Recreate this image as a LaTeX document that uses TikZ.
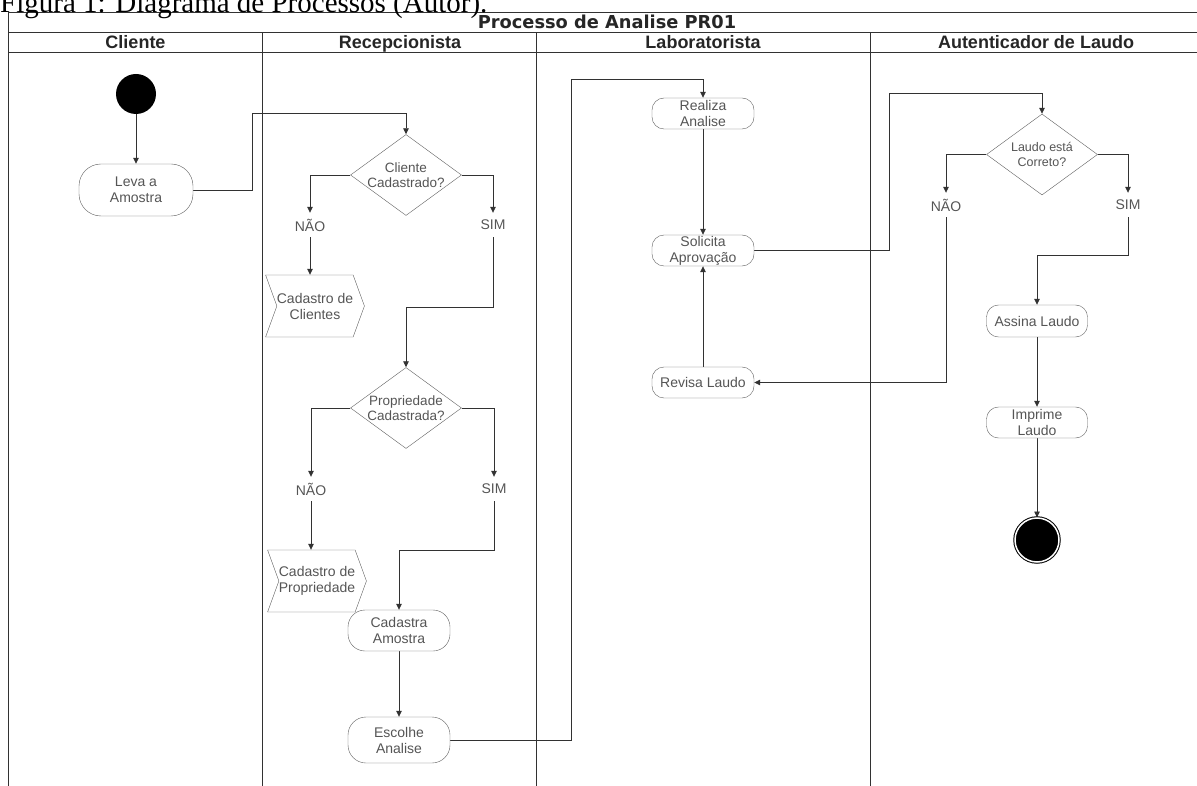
\documentclass[tikz,border=0pt]{standalone}
\usepackage{fontspec}
\setmainfont{Liberation Serif}
\setsansfont{Liberation Sans}
\newfontfamily\titlefont{DejaVu Sans}
\usepackage{tikz}
\definecolor{lanegray}{RGB}{50,50,50}
\definecolor{boxgray}{RGB}{95,95,95}
\definecolor{txtgray}{RGB}{85,85,85}
\usetikzlibrary{arrows.meta}
\usetikzlibrary{shapes.geometric}
\usetikzlibrary{shapes.symbols}
\pgfdeclarelayer{lanelayer}
\pgfdeclarelayer{edgelayer}
\pgfdeclarelayer{nodelayer}
\pgfsetlayers{lanelayer,edgelayer,nodelayer,main}
\tikzstyle{act}=[rectangle,rounded corners=12pt,draw=boxgray,fill=white,inner sep=0pt,minimum width=102pt,minimum height=31pt,align=center,text=txtgray,font=\sffamily\fontsize{14}{16}\selectfont]
\tikzstyle{decision}=[diamond,draw=boxgray,fill=white,inner sep=0pt,minimum width=111pt,minimum height=81pt]
\tikzstyle{dtext}=[align=center,text=txtgray,inner sep=0pt,font=\sffamily\fontsize{13.5}{15.5}\selectfont]
\tikzstyle{stepshape}=[signal,signal from=west,signal to=east,signal pointer angle=140,draw=boxgray,fill=white,inner sep=0pt,minimum width=96pt,minimum height=62pt,align=center,text=txtgray,font=\sffamily\fontsize{14}{16}\selectfont]
\tikzstyle{guard}=[inner sep=0pt,minimum height=24pt,text=txtgray,font=\sffamily\fontsize{14}{16}\selectfont]
\tikzstyle{startnode}=[circle,fill=black,minimum size=40pt,inner sep=0pt]
\tikzstyle{endnode}=[circle,draw=black,line width=1pt,double=white,double distance=1.5pt,fill=black,minimum size=44pt,inner sep=0pt]
\tikzstyle{lane}=[draw=lanegray,line width=0.9pt]
\tikzstyle{lanehead}=[anchor=base,inner sep=0pt,text=black!85,font=\sffamily\bfseries\fontsize{18}{20}\selectfont]
\tikzstyle{flow}=[->,draw=lanegray,line width=0.8pt]

\begin{document}
\begin{tikzpicture}[x=1pt,y=-1pt,>={Triangle[length=6pt,width=5.5pt]}]
    \useasboundingbox (0,0) rectangle (1197,786);

    \node [anchor=base west, inner sep=0pt, font=\fontsize{29}{30}\selectfont] (caption) at (0,13) {Figura 1: Diagrama de Processos (Autor).};

    \begin{pgfonlayer}{lanelayer}
        \draw [style = lane] (8,786) -- (8,12.7) -- (1197,12.7);
        \draw [style = lane] (8,32.3) -- (1197,32.3);
        \draw [style = lane] (8,52.7) -- (1197,52.7);
        \draw [style = lane] (262.7,32.3) -- (262.7,786);
        \draw [style = lane] (536.7,32.3) -- (536.7,786);
        \draw [style = lane] (870,32.3) -- (870,786);
    \end{pgfonlayer}

    \node [anchor=base, inner sep=0pt, text=black!85, font=\titlefont\bfseries\fontsize{17.8}{20}\selectfont] (title) at (607,28.3) {Processo de Analise PR01};
    \node [style = lanehead] (hcli) at (135.5,48.3) {Cliente};
    \node [style = lanehead] (hrec) at (400,48.3) {Recepcionista};
    \node [style = lanehead] (hlab) at (703,48.3) {Laboratorista};
    \node [style = lanehead] (haut) at (1036,48.3) {Autenticador de Laudo};

    \begin{pgfonlayer}{nodelayer}
        % Cliente
        \node [style = startnode] (start) at (136,94) {};
        \node [style = act, minimum width=114pt, minimum height=52pt, rounded corners=22pt] (leva) at (136,190) {Leva a\\Amostra};

        % Recepcionista
        \node [style = decision, label={[dtext]center:Cliente\\Cadastrado?}] (dcli) at (406,175) {};
        \node [style = guard] (nao1) at (310,225) {NÃO};
        \node [style = guard] (sim1) at (493,225) {SIM};
        \node [style = stepshape] (cadcli) at (315,306) {Cadastro de\\Clientes};

        \node [style = decision, label={[dtext]center:Propriedade\\Cadastrada?}] (dprop) at (406,408) {};
        \node [style = guard] (nao2) at (311,489) {NÃO};
        \node [style = guard] (sim2) at (494,489) {SIM};
        \node [style = stepshape] (cadprop) at (317,581) {Cadastro de\\Propriedade};

        \node [style = act, minimum height=41pt, rounded corners=17pt] (cadastra) at (399,630.5) {Cadastra\\Amostra};
        \node [style = act, minimum height=46pt, rounded corners=18pt] (escolhe) at (399,740) {Escolhe\\Analise};

        % Laboratorista
        \node [style = act] (realiza) at (703,113.5) {Realiza\\Analise};
        \node [style = act] (solicita) at (703,250.5) {Solicita\\Aprovação};
        \node [style = act] (revisa) at (703,382.5) {Revisa Laudo};

        % Autenticador de Laudo
        \node [style = decision, label={[dtext, font=\sffamily\fontsize{12.5}{15}\selectfont]center:Laudo está\\Correto?}] (dlaudo) at (1042,154.5) {};
        \node [style = guard] (nao3) at (946,205) {NÃO};
        \node [style = guard] (sim3) at (1128,205) {SIM};
        \node [style = act, minimum width=101pt, minimum height=32pt] (assina) at (1037,321) {Assina Laudo};
        \node [style = act, minimum width=101pt] (imprime) at (1037,422.5) {Imprime\\Laudo};
        \node [style = endnode] (fim) at (1037,540) {};
    \end{pgfonlayer}

    \begin{pgfonlayer}{edgelayer}
        \draw [style = flow] (start) to (leva);
        \draw [style = flow] (leva.east) -| (252,113) -| (dcli.north);

        \draw [style = flow] (dcli.west) -| (nao1.north);
        \draw [style = flow] (dcli.east) -| (sim1.north);
        \draw [style = flow] (nao1.south) -- (nao1.south |- cadcli.north);
        \draw [style = flow] (sim1.south) -- ++(0,70) -| (dprop.north);

        \draw [style = flow] (dprop.west) -| (nao2.north);
        \draw [style = flow] (dprop.east) -| (sim2.north);
        \draw [style = flow] (nao2.south) -- (nao2.south |- cadprop.north);
        \draw [style = flow] (sim2.south) -- ++(0,49) -| (cadastra.north);

        \draw [style = flow] (cadastra) to (escolhe);
        \draw [style = flow] (escolhe.east) -| (571,79) -| (realiza.north);

        \draw [style = flow] (realiza) to (solicita);
        \draw [style = flow] (revisa) to (solicita);
        \draw [style = flow] (solicita.east) -| (889,93) -| (dlaudo.north);

        \draw [style = flow] (dlaudo.west) -| (nao3.north);
        \draw [style = flow] (dlaudo.east) -| (sim3.north);
        \draw [style = flow] (nao3.south) |- (revisa.east);
        \draw [style = flow] (sim3.south) -- ++(0,38) -| (assina.north);

        \draw [style = flow] (assina) to (imprime);
        \draw [style = flow] (imprime) to (fim);
    \end{pgfonlayer}
\end{tikzpicture}
\end{document}
